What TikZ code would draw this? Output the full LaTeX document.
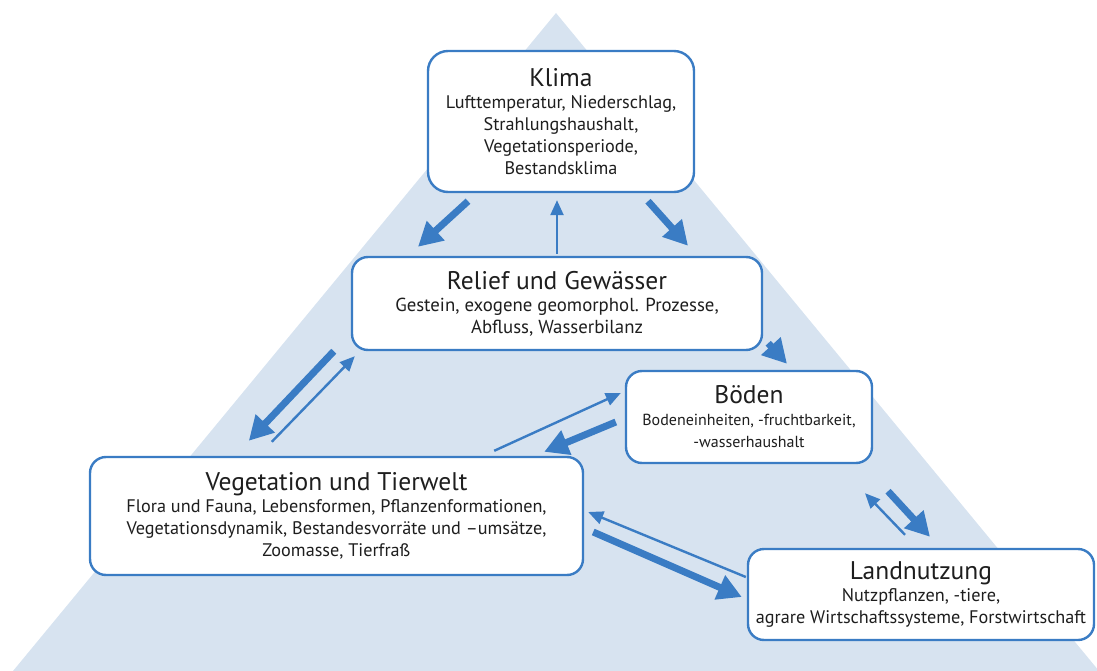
\documentclass[tikz,border=0pt]{standalone}
\usepackage{fontspec}
\setmainfont{PT Sans}
\usetikzlibrary{arrows.meta}
\definecolor{pyramid}{RGB}{215,227,240}
\definecolor{frameblue}{RGB}{58,124,196}
\definecolor{txt}{RGB}{30,30,30}
\tikzset{
  sphere/.style={draw=frameblue, line width=2.4pt, fill=white, rounded corners=16pt,
    align=center, inner sep=0pt, text=txt, font=\fontsize{18.2}{22}\selectfont},
  strong/.style={draw=frameblue, line width=7pt,
    -{Triangle[length=24pt,width=25pt]}},
  weak/.style={draw=frameblue, line width=2.4pt,
    -{Triangle[length=15pt,width=13pt]}},
}
\newcommand{\ttl}[1]{{\fontsize{25.5}{28}\selectfont #1}}
\begin{document}
\begin{tikzpicture}[x=1pt,y=-1pt]
  \useasboundingbox (0,0) rectangle (1097,671);
  % background pyramid
  \fill[pyramid] (556,13) -- (1099,671) -- (13,671) -- cycle;

  % spheres
  \node[sphere, rounded corners=20pt, minimum width=266pt, minimum height=141pt] (klima) at (561,121.5)
    {\ttl{Klima}\\Lufttemperatur, Niederschlag,\\Strahlungshaushalt,\\Vegetationsperiode,\\Bestandsklima};
  \node[sphere, font=\fontsize{18.8}{22}\selectfont, minimum width=410pt, minimum height=93pt] (relief) at (557,303.5)
    {\ttl{Relief und Gewässer}\\Gestein, exogene geomorphol. Prozesse,\\Abfluss, Wasserbilanz};
  \node[sphere, font=\fontsize{16}{22}\selectfont, minimum width=246pt, minimum height=92pt] (boeden) at (749,417)
    {\ttl{Böden}\\Bodeneinheiten, -fruchtbarkeit,\\-wasserhaushalt};
  \node[sphere, minimum width=493pt, minimum height=118pt] (veg) at (336.5,516)
    {\ttl{Vegetation und Tierwelt}\\Flora und Fauna, Lebensformen, Pflanzenformationen,\\Vegetationsdynamik, Bestandesvorräte und –umsätze,\\Zoomasse, Tierfraß};
  \node[sphere, minimum width=346pt, minimum height=91pt] (land) at (921,594.5)
    {\ttl{Landnutzung}\\Nutzpflanzen, -tiere,\\agrare Wirtschaftssysteme, Forstwirtschaft};

  % interactions
  \draw[strong] ([shift={(-93,8)}]klima.south) -- ([shift={(-139,-9)}]relief.north);
  \draw[weak]   ([shift={(0,-2)}]relief.north) -- ([shift={(-4,7)}]klima.south);
  \draw[strong] ([shift={(87,8)}]klima.south) -- ([shift={(131,-10)}]relief.north);
  \draw[strong] ([shift={(5,-8)}]relief.south east) -- ([shift={(38,-6)}]boeden.north);
  \draw[strong] ([shift={(-17,0)}]relief.south west) -- ([shift={(160,-15)}]veg.north west);
  \draw[weak]   ([shift={(183,-14)}]veg.north west) -- ([shift={(4,5)}]relief.south west);
  \draw[weak]   ([shift={(-90,-5)}]veg.north east) -- ([shift={(-4,-24)}]boeden.west);
  \draw[strong] ([shift={(-9,5)}]boeden.west) -- ([shift={(-40,-4)}]veg.north east);
  \draw[weak]   ([shift={(-1,-17.5)}]land.west) -- ([shift={(4,-4)}]veg.east);
  \draw[strong] ([shift={(9,16)}]veg.east) -- ([shift={(-5,2.5)}]land.west);
  \draw[weak]   ([shift={(-16,-13)}]land.north) -- ([shift={(116,29)}]boeden.south);
  \draw[strong] ([shift={(139,27)}]boeden.south) -- ([shift={(9,-11)}]land.north);
\end{tikzpicture}
\end{document}
